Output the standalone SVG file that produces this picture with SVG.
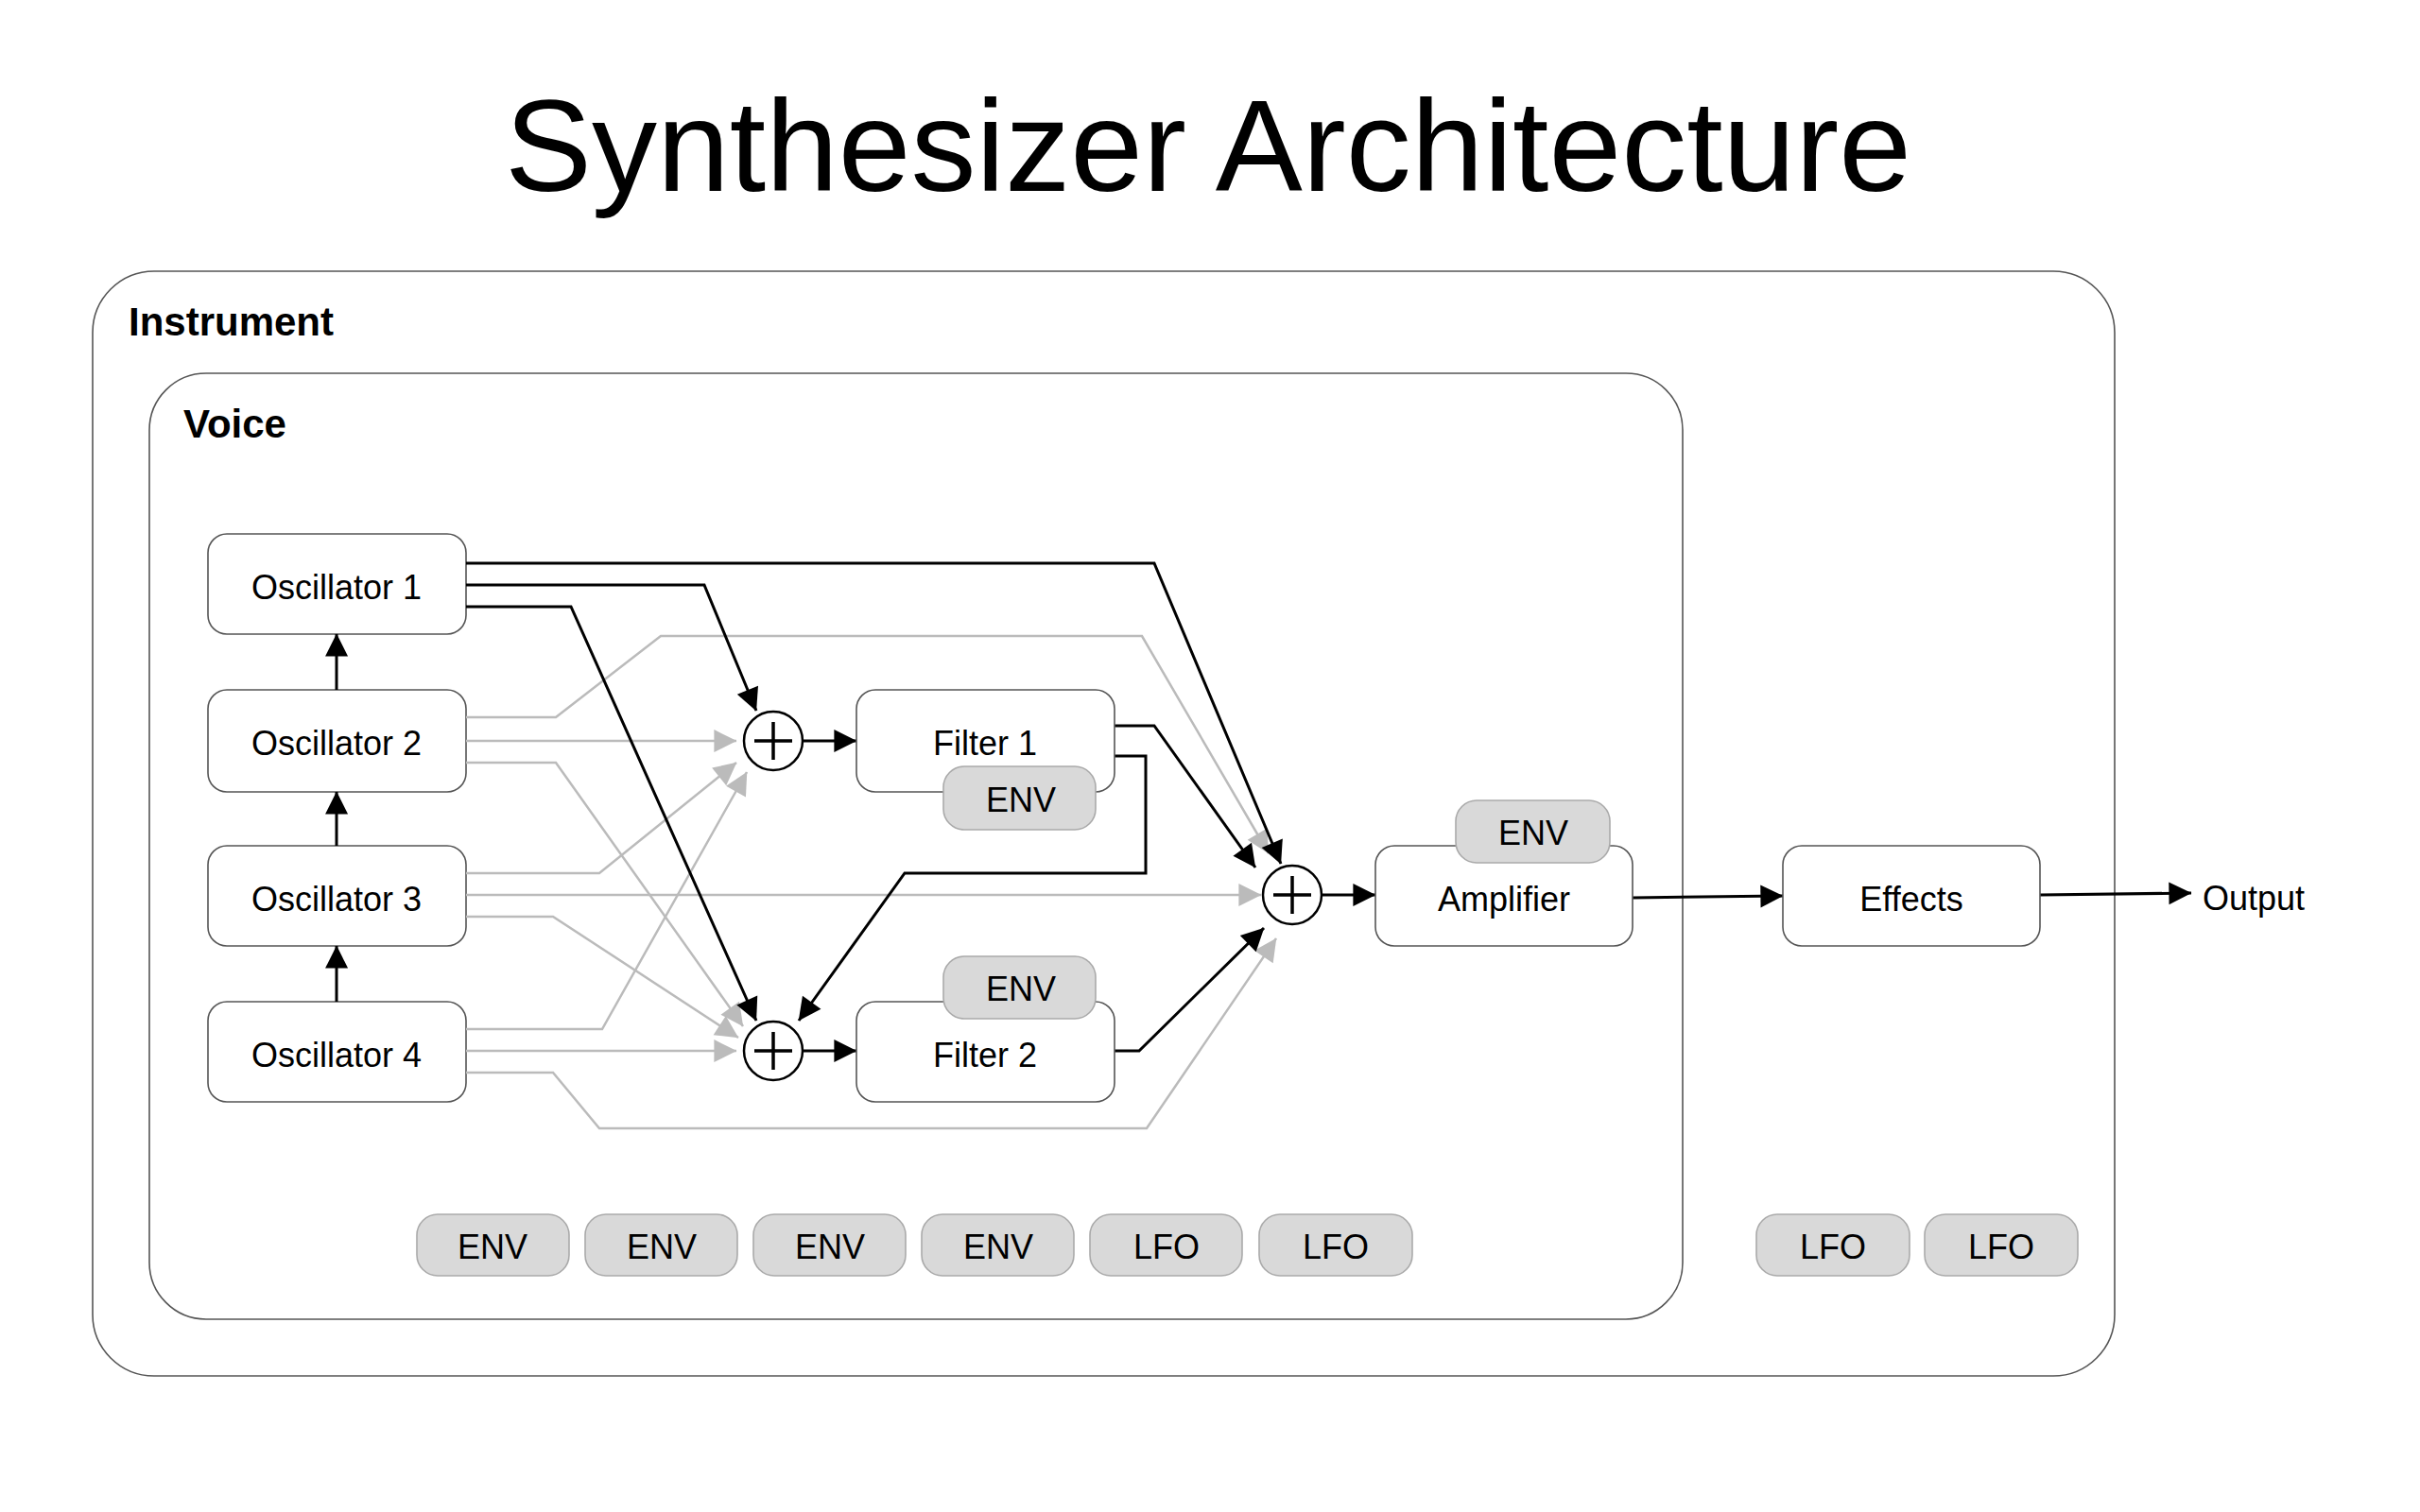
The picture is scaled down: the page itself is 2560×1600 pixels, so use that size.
<svg xmlns="http://www.w3.org/2000/svg" width="2560" height="1600" viewBox="0 0 2560 1600">
<defs>
<marker id="ab" viewBox="0 0 10 10" refX="10" refY="5" markerWidth="8" markerHeight="8" markerUnits="userSpaceOnUse" orient="auto" style="overflow:visible"><path d="M0,0 L10,5 L0,10 z" fill="#000" transform="scale(3) translate(-6.5,-3.3)"/></marker>
<marker id="ag" viewBox="0 0 10 10" refX="10" refY="5" markerWidth="8" markerHeight="8" markerUnits="userSpaceOnUse" orient="auto" style="overflow:visible"><path d="M0,0 L10,5 L0,10 z" fill="#bbb" transform="scale(3) translate(-6.5,-3.3)"/></marker>
<style>
text{font-family:"Liberation Sans",Arial,sans-serif;fill:#000}
.box{fill:#fff;stroke:#555;stroke-width:1.6}
.cont{fill:#fff;stroke:#555;stroke-width:1.6}
.badge{fill:#d9d9d9;stroke:#aaa;stroke-width:1.6}
.lbl{font-size:36px;text-anchor:middle;dominant-baseline:central}
.b{fill:none;stroke:#000;stroke-width:3;marker-end:url(#ab)}
.g{fill:none;stroke:#bbb;stroke-width:2.5;marker-end:url(#ag)}
.sum{fill:#fff;stroke:#000;stroke-width:2.5}
</style>
</defs>
<rect width="2560" height="1600" fill="#fff"/>
<text x="1278" y="202" font-size="138" text-anchor="middle">Synthesizer Architecture</text>
<g id="instrument"><rect class="cont" x="98" y="287" width="2139" height="1169" rx="65"/><text x="136" y="355" font-size="42" font-weight="bold">Instrument</text></g>
<g id="voice"><rect class="cont" x="158" y="395" width="1622" height="1001" rx="60"/><text x="194" y="463" font-size="42" font-weight="bold">Voice</text></g>
<g id="osc1"><rect class="box" x="220" y="565" width="273" height="106" rx="20"/><text class="lbl" x="356" y="621">Oscillator 1</text></g>
<g id="osc2"><rect class="box" x="220" y="730" width="273" height="108" rx="20"/><text class="lbl" x="356" y="786">Oscillator 2</text></g>
<g id="osc3"><rect class="box" x="220" y="895" width="273" height="106" rx="20"/><text class="lbl" x="356" y="951">Oscillator 3</text></g>
<g id="osc4"><rect class="box" x="220" y="1060" width="273" height="106" rx="20"/><text class="lbl" x="356" y="1116">Oscillator 4</text></g>
<g id="connectors">
<path class="b" d="M356,730 L356,671"/>
<path class="b" d="M356,895 L356,838"/>
<path class="b" d="M356,1060 L356,1001"/>
<path class="g" d="M493,759 L588,759 L699,673 L1208,673 L1342,903"/>
<path class="g" d="M493,784 L779,784"/>
<path class="g" d="M493,807 L588,807 L786,1086"/>
<path class="g" d="M493,924 L634,924 L779,807"/>
<path class="g" d="M493,947 L1334,947"/>
<path class="g" d="M493,970 L585,970 L781,1098"/>
<path class="g" d="M493,1089 L637,1089 L790,817"/>
<path class="g" d="M493,1112 L779,1112"/>
<path class="g" d="M493,1135 L585,1135 L634,1194 L1213,1194 L1350,993"/>
<path class="b" d="M493,596 L1221,596 L1355,914"/>
<path class="b" d="M493,619 L745,619 L800,752"/>
<path class="b" d="M493,642 L604,642 L800,1080"/>
<path class="b" d="M1179,768 L1221,768 L1328,918"/>
<path class="b" d="M1179,800 L1212,800 L1212,924 L957,924 L845,1080"/>
<path class="b" d="M1179,1112 L1205,1112 L1337,982"/>
<path class="b" d="M849,784 L906,784"/>
<path class="b" d="M849,1112 L906,1112"/>
<path class="b" d="M1398,947 L1455,947"/>
<path class="b" d="M1727,950 L1886,948"/>
<path class="b" d="M2158,947 L2318,945"/>
</g>
<g id="sum1"><circle class="sum" cx="818" cy="784" r="31"/><path d="M798,784 H838 M818,764 V804" stroke="#000" stroke-width="3.5"/></g>
<g id="sum2"><circle class="sum" cx="818" cy="1112" r="31"/><path d="M798,1112 H838 M818,1092 V1132" stroke="#000" stroke-width="3.5"/></g>
<g id="sum3"><circle class="sum" cx="1367" cy="947" r="31"/><path d="M1347,947 H1387 M1367,927 V967" stroke="#000" stroke-width="3.5"/></g>
<g id="filter1"><rect class="box" x="906" y="730" width="273" height="108" rx="20"/><text class="lbl" x="1042" y="786">Filter 1</text><rect class="badge" x="998" y="811" width="161" height="67" rx="22"/><text class="lbl" x="1080" y="846">ENV</text></g>
<g id="filter2"><rect class="box" x="906" y="1060" width="273" height="106" rx="20"/><text class="lbl" x="1042" y="1116">Filter 2</text><rect class="badge" x="998" y="1012" width="161" height="66" rx="22"/><text class="lbl" x="1080" y="1046">ENV</text></g>
<g id="amp"><rect class="box" x="1455" y="895" width="272" height="106" rx="20"/><text class="lbl" x="1591" y="951">Amplifier</text><rect class="badge" x="1540" y="847" width="163" height="66" rx="22"/><text class="lbl" x="1622" y="881">ENV</text></g>
<g id="effects"><rect class="box" x="1886" y="895" width="272" height="106" rx="20"/><text class="lbl" x="2022" y="951">Effects</text></g>
<g id="output"><text x="2330" y="950" font-size="36" dominant-baseline="central">Output</text></g>
<g id="mods">
<rect class="badge" x="441" y="1285" width="161" height="65" rx="22"/><text class="lbl" x="521" y="1319">ENV</text>
<rect class="badge" x="619" y="1285" width="161" height="65" rx="22"/><text class="lbl" x="700" y="1319">ENV</text>
<rect class="badge" x="797" y="1285" width="161" height="65" rx="22"/><text class="lbl" x="878" y="1319">ENV</text>
<rect class="badge" x="975" y="1285" width="161" height="65" rx="22"/><text class="lbl" x="1056" y="1319">ENV</text>
<rect class="badge" x="1153" y="1285" width="161" height="65" rx="22"/><text class="lbl" x="1234" y="1319">LFO</text>
<rect class="badge" x="1332" y="1285" width="162" height="65" rx="22"/><text class="lbl" x="1413" y="1319">LFO</text>
<rect class="badge" x="1858" y="1285" width="162" height="65" rx="22"/><text class="lbl" x="1939" y="1319">LFO</text>
<rect class="badge" x="2036" y="1285" width="162" height="65" rx="22"/><text class="lbl" x="2117" y="1319">LFO</text>
</g>
</svg>
